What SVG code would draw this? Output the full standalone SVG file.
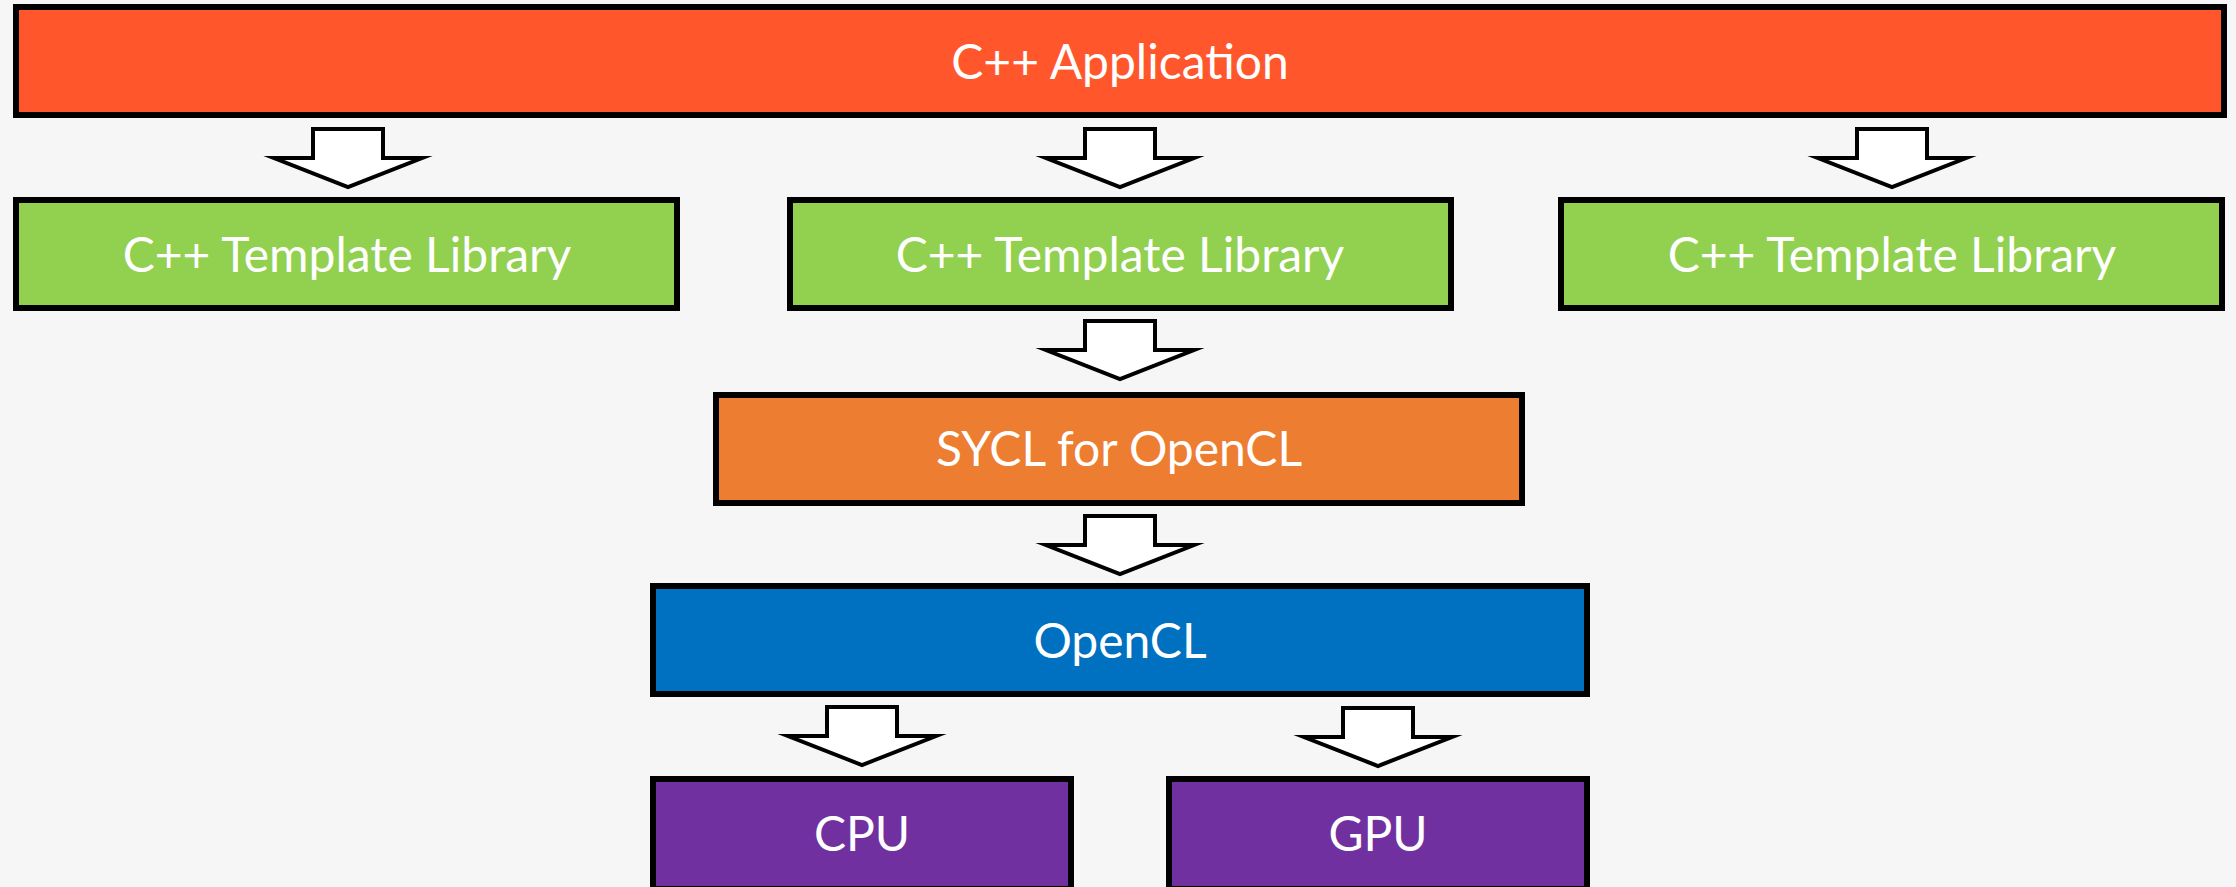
<svg xmlns="http://www.w3.org/2000/svg" xmlns:xlink="http://www.w3.org/1999/xlink" width="2236" height="887" viewBox="0 0 2236 887">
<style>
.box{stroke:#000;stroke-width:6}
.lbl{font-family:Lato,"Open Sans","Liberation Sans",sans-serif;font-size:48px;fill:#fff;text-anchor:middle}
.arr{fill:#fff;stroke:#000;stroke-width:4;stroke-miterlimit:10}
</style>
<defs>
<path id="blk" class="arr" d="M-35,0 H35 V29 H74 L0,58 L-74,29 H-35 Z"/>
</defs>
<rect width="2236" height="887" fill="#f6f6f6"/>
<g id="app"><rect class="box" x="16" y="7" width="2208" height="108" fill="#ff562b"/><text class="lbl" x="1120" y="79">C++ Application</text></g>
<g id="tpl1"><rect class="box" x="16" y="200" width="661" height="108" fill="#92d050"/><text class="lbl" x="347" y="272">C++ Template Library</text></g>
<g id="tpl2"><rect class="box" x="790" y="200" width="661" height="108" fill="#92d050"/><text class="lbl" x="1120" y="272">C++ Template Library</text></g>
<g id="tpl3"><rect class="box" x="1561" y="200" width="661" height="108" fill="#92d050"/><text class="lbl" x="1892" y="272">C++ Template Library</text></g>
<g id="sycl"><rect class="box" x="716" y="395" width="806" height="108" fill="#ed7d31"/><text class="lbl" x="1119" y="466">SYCL for OpenCL</text></g>
<g id="opencl"><rect class="box" x="653" y="586" width="934" height="108" fill="#0070c0"/><text class="lbl" x="1120" y="658">OpenCL</text></g>
<g id="cpu"><rect class="box" x="653" y="779" width="418" height="110" fill="#7030a0"/><text class="lbl" x="862" y="851">CPU</text></g>
<g id="gpu"><rect class="box" x="1169" y="779" width="418" height="110" fill="#7030a0"/><text class="lbl" x="1378" y="851">GPU</text></g>
<g id="connectors">
<use xlink:href="#blk" transform="translate(348,129)"/>
<use xlink:href="#blk" transform="translate(1120,129)"/>
<use xlink:href="#blk" transform="translate(1892,129)"/>
<use xlink:href="#blk" transform="translate(1120,321)"/>
<use xlink:href="#blk" transform="translate(1120,516)"/>
<use xlink:href="#blk" transform="translate(862,707)"/>
<use xlink:href="#blk" transform="translate(1378,708)"/>
</g>
</svg>
